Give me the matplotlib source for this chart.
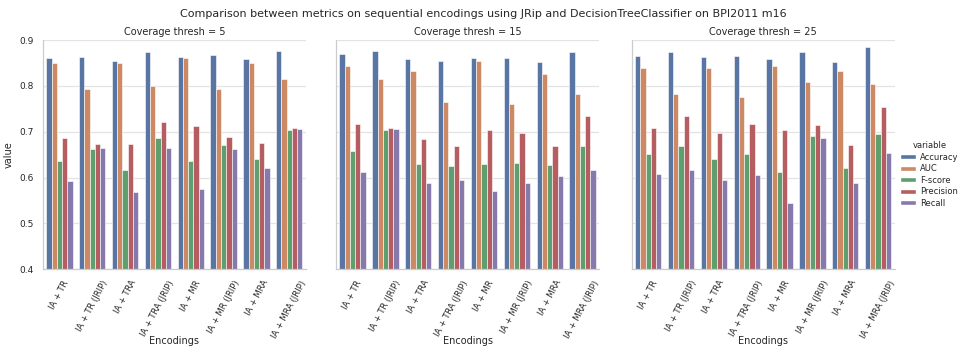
import matplotlib
matplotlib.use("Agg")
import matplotlib.pyplot as plt
import numpy as np
import pandas as pd
import seaborn as sns

encodings = ["IA + TR", "IA + TR (JRIP)", "IA + TRA", "IA + TRA (JRIP)",
             "IA + MR", "IA + MR (JRIP)", "IA + MRA", "IA + MRA (JRIP)"]
metrics = ["Accuracy", "AUC", "F-score", "Precision", "Recall"]
thresholds = [5, 15, 25]

# thresh = 5
acc_5 = [0.860, 0.864, 0.855, 0.874, 0.864, 0.867, 0.858, 0.877]
auc_5 = [0.850, 0.794, 0.850, 0.799, 0.860, 0.794, 0.850, 0.815]
f_5 = [0.635, 0.663, 0.616, 0.686, 0.635, 0.670, 0.641, 0.704]
prec_5 = [0.687, 0.674, 0.674, 0.721, 0.713, 0.689, 0.676, 0.709]
rec_5 = [0.592, 0.665, 0.568, 0.665, 0.575, 0.662, 0.621, 0.706]

# thresh = 15
acc_15 = [0.869, 0.877, 0.858, 0.855, 0.862, 0.860, 0.853, 0.874]
auc_15 = [0.844, 0.815, 0.833, 0.765, 0.855, 0.761, 0.827, 0.783]
f_15 = [0.657, 0.704, 0.630, 0.625, 0.630, 0.632, 0.627, 0.669]
prec_15 = [0.716, 0.709, 0.684, 0.669, 0.704, 0.698, 0.669, 0.735]
rec_15 = [0.611, 0.706, 0.588, 0.595, 0.571, 0.588, 0.603, 0.616]

# thresh = 25
acc_25 = [0.866, 0.874, 0.864, 0.866, 0.858, 0.874, 0.853, 0.884]
auc_25 = [0.840, 0.783, 0.840, 0.776, 0.844, 0.809, 0.833, 0.805]
f_25 = [0.652, 0.669, 0.641, 0.651, 0.612, 0.691, 0.620, 0.696]
prec_25 = [0.708, 0.735, 0.698, 0.716, 0.704, 0.715, 0.670, 0.755]
rec_25 = [0.608, 0.616, 0.595, 0.605, 0.544, 0.687, 0.588, 0.654]

series = {
    5: [acc_5, auc_5, f_5, prec_5, rec_5],
    15: [acc_15, auc_15, f_15, prec_15, rec_15],
    25: [acc_25, auc_25, f_25, prec_25, rec_25],
}

rows = []
for t in thresholds:
    for m, vals in zip(metrics, series[t]):
        for enc, v in zip(encodings, vals):
            rows.append({"Coverage thresh": t, "Encodings": enc,
                         "variable": m, "value": v})
df = pd.DataFrame(rows)

sns.set_theme(style="whitegrid")
plt.rcParams["font.family"] = ["DejaVu Sans"]

fig = plt.figure(figsize=(9.66, 3.49), dpi=100)
lefts = [0.0445, 0.348, 0.654]
width = 0.272
bottom, top = 0.229, 0.885
axes = []
for i, t in enumerate(thresholds):
    ax = fig.add_axes([lefts[i], bottom, width, top - bottom],
                      sharey=axes[0] if axes else None)
    axes.append(ax)
    sub = df[df["Coverage thresh"] == t]
    sns.barplot(data=sub, x="Encodings", y="value", hue="variable",
                order=encodings, hue_order=metrics, ax=ax,
                palette="deep", saturation=0.75, errorbar=None,
                edgecolor="white", linewidth=0.4, legend=False)
    ax.set_ylim(0.4, 0.9)
    ax.set_yticks([0.4, 0.5, 0.6, 0.7, 0.8, 0.9])
    ax.set_title(f"Coverage thresh = {t}", fontsize=7, pad=4)
    ax.set_xlabel("Encodings", fontsize=7)
    ax.xaxis.set_label_coords(0.5, -0.292)
    ax.xaxis.grid(False)
    ax.yaxis.grid(True, color="#e3e3e3", linewidth=0.9)
    for s in ["top", "right"]:
        ax.spines[s].set_visible(False)
    for s in ["left", "bottom"]:
        ax.spines[s].set_color("#cccccc")
        ax.spines[s].set_linewidth(0.9)
    ax.tick_params(axis="x", labelsize=6, rotation=62, pad=1)
    ax.tick_params(axis="y", labelsize=6.5, pad=1)
    if i == 0:
        ax.set_ylabel("value", fontsize=7, labelpad=4)
        ax.yaxis.set_major_formatter(matplotlib.ticker.FormatStrFormatter("%g"))
    else:
        ax.set_ylabel("")
        ax.tick_params(axis="y", labelleft=False)

colors = sns.color_palette("deep", 5)
handles = [matplotlib.patches.Patch(facecolor=sns.desaturate(c, 0.75), label=m)
           for c, m in zip(colors, metrics)]
leg = fig.legend(handles=handles, title="variable", loc="center left",
                 bbox_to_anchor=(0.932, 0.5), frameon=False, fontsize=6,
                 title_fontsize=6, handlelength=1.9, handleheight=0.6,
                 handletextpad=0.5, labelspacing=0.3, borderaxespad=0,
                 borderpad=0)

fig.suptitle("Comparison between metrics on sequential encodings using JRip "
             "and DecisionTreeClassifier on BPI2011 m16", fontsize=8, y=0.975)

fig.savefig("out.png", dpi=100)
